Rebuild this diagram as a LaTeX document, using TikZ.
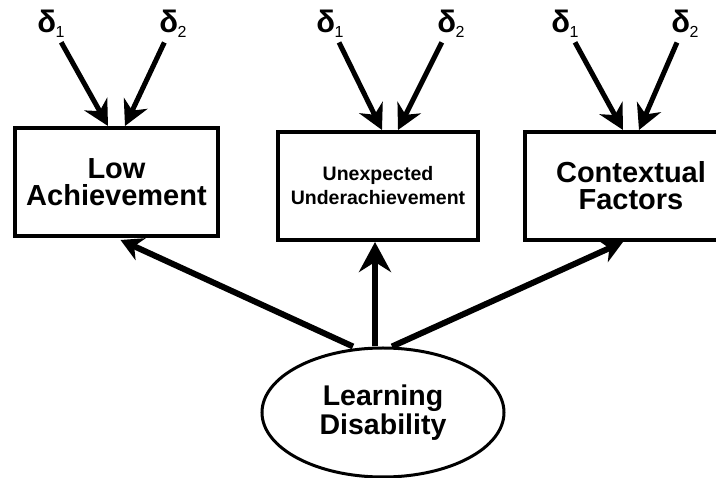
\documentclass[tikz,border=0pt]{standalone}
\usepackage{fontspec}
\setmainfont{Liberation Sans}
\usetikzlibrary{arrows.meta,shapes.geometric}
\newcommand{\dl}[1]{δ\kern-0.5pt\raisebox{-5pt}{\fontsize{16}{16}\mdseries\selectfont #1}}
\begin{document}
\begin{tikzpicture}[x=1pt,y=-1pt,
  box/.style={draw,line width=4pt,align=center,inner sep=0pt,
    font=\fontsize{29}{27}\selectfont\bfseries},
  smallbox/.style={box,font=\fontsize{19.5}{24}\selectfont\bfseries},
  latent/.style={draw,ellipse,line width=3pt,align=center,inner sep=0pt,
    minimum width=242pt,minimum height=129pt,
    font=\fontsize{28.5}{29}\selectfont\bfseries},
  err/.style={inner sep=0pt,minimum width=26pt,minimum height=24pt,
    font=\fontsize{31}{31}\selectfont\bfseries},
  darr/.style={line width=5pt,shorten <=5pt,
    -{Stealth[length=25pt,width=26pt,inset=8pt]}},
  marr/.style={line width=6pt,-{Stealth[length=22pt,width=24pt,inset=7pt]}},
  varr/.style={line width=6pt,-{Stealth[length=30pt,width=32pt,inset=10pt]}}]
\useasboundingbox (0,0) rectangle (716,478);
% boxes
\node[box,minimum width=203pt,minimum height=108pt] (b1) at (116.5,182) {Low\\Achievement};
\node[smallbox,minimum width=200pt,minimum height=108pt] (b2) at (378,186) {Unexpected\\Underachievement};
\node[box,minimum width=212pt,minimum height=108pt] (b3) at (631,186) {Contextual\\Factors};
% latent
\node[latent] (ld) at (383,412.5) {Learning\\Disability};
% error terms
\node[err] (d11) at (51,24) {\dl{1}};
\node[err] (d12) at (173,24) {\dl{2}};
\node[err] (d21) at (330,24) {\dl{1}};
\node[err] (d22) at (451,24) {\dl{2}};
\node[err] (d31) at (565,24) {\dl{1}};
\node[err] (d32) at (685,24) {\dl{2}};
% error arrows
\draw[darr] (d11) -- ([xshift=-8.5pt]b1.north);
\draw[darr] (d12) -- ([xshift=8.5pt]b1.north);
\draw[darr] (d21) -- ([xshift=4pt]b2.north);
\draw[darr] (d22) -- ([xshift=20pt]b2.north);
\draw[darr] (d31) -- ([xshift=-8pt]b3.north);
\draw[darr] (d32) -- ([xshift=8pt]b3.north);
% loadings
\draw[marr] ([xshift=-30pt]ld.north) -- ([xshift=4pt,yshift=-2pt]b1.south);
\draw[varr] ([xshift=-8pt]ld.north) -- ([xshift=-3pt]b2.south);
\draw[marr] ([xshift=9pt]ld.north) -- ([xshift=-8pt]b3.south);
\end{tikzpicture}
\end{document}
